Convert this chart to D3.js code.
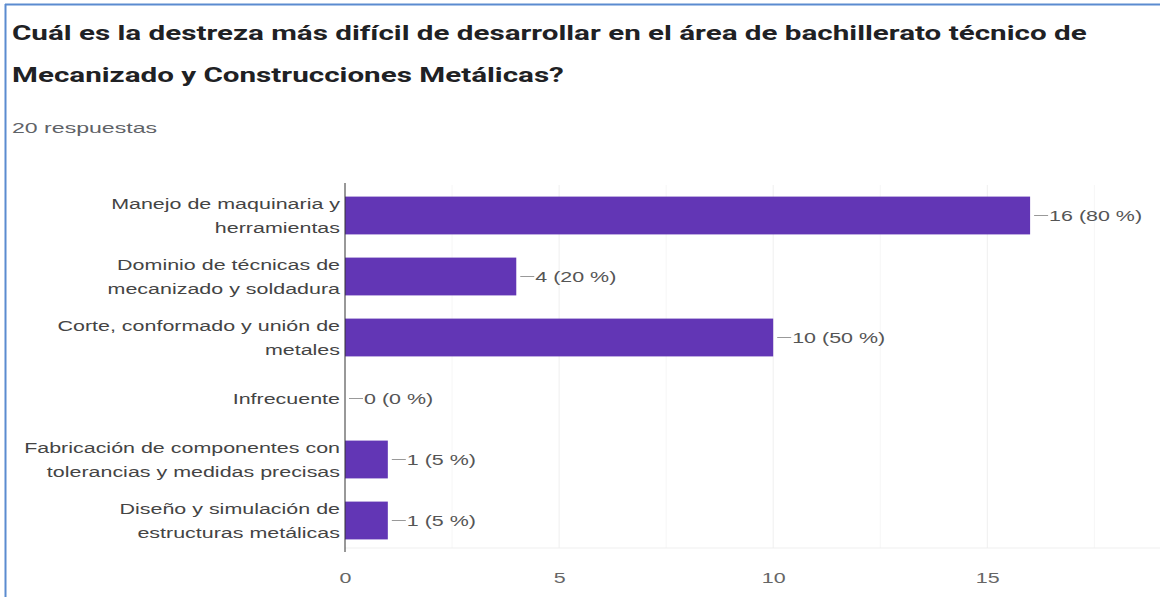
<!DOCTYPE html>
<html>
<head>
<meta charset="utf-8">
<script src="https://cdn.jsdelivr.net/npm/d3@7"></script>
<style>
  html, body { margin: 0; padding: 0; background: #fff; }
  svg { display: block; }
</style>
</head>
<body>
<svg id="chart" width="1160" height="597"></svg>
<script>
// Survey answers: category labels (split into display lines) and response counts
const categories = [
  ["Manejo de maquinaria y", "herramientas"],
  ["Dominio de técnicas de", "mecanizado y soldadura"],
  ["Corte, conformado y unión de", "metales"],
  ["Infrecuente"],
  ["Fabricación de componentes con", "tolerancias y medidas precisas"],
  ["Diseño y simulación de", "estructuras metálicas"]
];
const counts = [16, 4, 10, 0, 1, 1];
const totalResponses = 20;
const tickValues = [0, 5, 10, 15];
const gridValues = [2.5, 5, 7.5, 10, 12.5, 15, 17.5];

const titleLines = [
  "Cuál es la destreza más difícil de desarrollar en el área de bachillerato técnico de",
  "Mecanizado y Construcciones Metálicas?"
];
const subtitle = totalResponses + " respuestas";

const svg = d3.select("#chart");
const W = 1160, H = 597;
const stretch = 1.43; // horizontal widening applied to the text glyphs

// frame edges
svg.append("line").attr("x1", 5).attr("x2", W).attr("y1", 4.5).attr("y2", 4.5)
  .attr("stroke", "#5b8bd0").attr("stroke-width", 2);
svg.append("line").attr("x1", 5.5).attr("x2", 5.5).attr("y1", 4).attr("y2", H)
  .attr("stroke", "#5b8bd0").attr("stroke-width", 2);

// heading
svg.selectAll("text.title").data(titleLines).join("text")
  .attr("class", "title")
  .attr("transform", (d, i) => `translate(12,${40 + i * 42}) scale(1.41,1)`)
  .attr("font-family", "Roboto, 'Noto Sans', sans-serif")
  .attr("font-weight", 700)
  .attr("font-size", 21)
  .attr("fill", "#202124")
  .text(d => d);

svg.append("text")
  .attr("transform", `translate(12,133) scale(1.54,1)`)
  .attr("font-family", "Arial, 'Liberation Sans', sans-serif")
  .attr("font-size", 15)
  .attr("fill", "#5f6368")
  .text(subtitle);

// scales
const x = d3.scaleLinear().domain([0, 18.8]).range([345, 1150]);
const y = d3.scaleBand().domain(d3.range(counts.length)).range([185, 551]).paddingInner(0.38).paddingOuter(0.19);

const plotTop = 185, plotBottom = 548;

// gridlines
svg.append("g").selectAll("line").data(gridValues).join("line")
  .attr("x1", d => x(d)).attr("x2", d => x(d))
  .attr("y1", plotTop).attr("y2", plotBottom)
  .attr("stroke", d => d % 5 === 0 ? "#efefef" : "#f6f6f6")
  .attr("stroke-width", 1);

svg.append("line")
  .attr("x1", x(0)).attr("x2", W)
  .attr("y1", plotBottom).attr("y2", plotBottom)
  .attr("stroke", "#efefef").attr("stroke-width", 1);

// bars
svg.append("g").selectAll("rect").data(counts).join("rect")
  .attr("x", x(0))
  .attr("y", (d, i) => y(i))
  .attr("width", d => x(d) - x(0))
  .attr("height", y.bandwidth())
  .attr("fill", "#6236b5");

// value annotations with leader lines
const ann = svg.append("g").selectAll("g").data(counts).join("g")
  .attr("transform", (d, i) => `translate(${x(d)},${y(i) + y.bandwidth() / 2})`);
ann.append("line")
  .attr("x1", 4).attr("x2", 18).attr("y1", 0).attr("y2", 0)
  .attr("stroke", "#999").attr("stroke-width", 1);
ann.append("text")
  .attr("transform", `translate(19,0) scale(${stretch},1)`)
  .attr("dy", "0.35em")
  .attr("font-family", "Arial, 'Liberation Sans', sans-serif")
  .attr("font-size", 15)
  .attr("fill", "#555")
  .text(d => `${d} (${Math.round(d / totalResponses * 100)} %)`);

// category labels, right-aligned against the axis
const lab = svg.append("g").selectAll("text").data(categories).join("text")
  .attr("text-anchor", "end")
  .attr("font-family", "Arial, 'Liberation Sans', sans-serif")
  .attr("font-size", 15)
  .attr("fill", "#444");
lab.each(function(lines, i) {
  const cy = y(i) + y.bandwidth() / 2;
  const lh = 24;
  const y0 = cy - (lines.length - 1) * lh / 2;
  d3.select(this)
    .attr("transform", `translate(340,${y0}) scale(${stretch},1)`)
    .selectAll("tspan").data(lines).join("tspan")
    .attr("x", 0)
    .attr("y", (d, j) => j * lh)
    .attr("dy", "0.35em")
    .text(d => d);
});

// vertical axis line
svg.append("line")
  .attr("x1", x(0)).attr("x2", x(0))
  .attr("y1", 183).attr("y2", 552)
  .attr("stroke", "#333").attr("stroke-width", 1);

// x tick labels
const xAxis = d3.axisBottom(x).tickValues(tickValues).tickSize(0).tickPadding(0);
const gx = svg.append("g").attr("transform", "translate(0,572)").call(xAxis);
gx.select(".domain").remove();
gx.selectAll(".tick text")
  .attr("font-family", "Arial, 'Liberation Sans', sans-serif")
  .attr("font-size", 15)
  .attr("fill", "#666")
  .attr("transform", `scale(${stretch},1)`);
</script>
</body>
</html>
